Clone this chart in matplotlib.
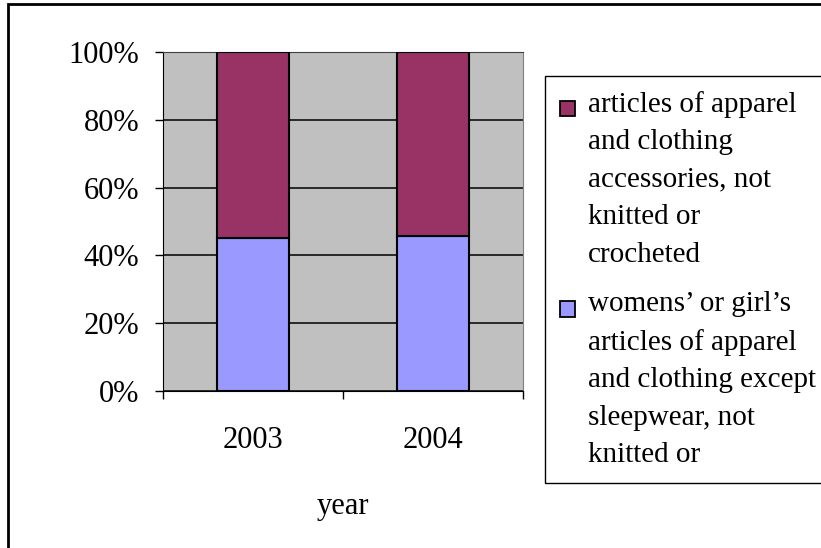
import matplotlib
matplotlib.use("Agg")
import matplotlib.pyplot as plt
from matplotlib.patches import Rectangle
import numpy as np

# data (share of total, %)
years = ["2003", "2004"]
womens = [45.2, 45.8]
apparel = [54.8, 54.2]

labels = ["articles of apparel\nand clothing\naccessories, not\nknitted or\ncrocheted",
          "womens\u2019 or girl\u2019s\narticles of apparel\nand clothing except\nsleepwear, not\nknitted or"]

plt.rcParams["font.family"] = ["Liberation Serif", "DejaVu Serif"]
fs = 22
lfs = 21
DPI = 100

W, H = 821, 548
fig = plt.figure(figsize=(W / DPI, H / DPI), dpi=DPI)
ax = fig.add_axes([163 / W, 1 - 391 / H, 360 / W, 339 / H])
ax.set_facecolor("#C0C0C0")

x = np.arange(len(years))
b1 = ax.bar(x, womens, width=0.4, color="#9999FF", edgecolor="black", linewidth=1.5, zorder=3)
b2 = ax.bar(x, apparel, width=0.4, bottom=womens, color="#993366", edgecolor="black",
            linewidth=1.5, zorder=3)

ax.set_xlim(-0.5, 1.5)
ax.set_ylim(0, 100)

# y axis
ax.set_yticks(np.arange(0, 101, 20))
ax.set_yticklabels(["%d%%" % v for v in range(0, 101, 20)], fontsize=fs)
ax.yaxis.grid(True, color="black", linewidth=1.1, zorder=1)
ax.set_axisbelow(True)
ax.tick_params(axis="y", direction="out", length=6, width=1, pad=11)

# x axis: ticks at category boundaries, labels centered
ax.set_xticks([-0.5, 0.5, 1.5])
ax.set_xticklabels([])
ax.set_xticks(x, minor=True)
ax.set_xticklabels(years, minor=True, fontsize=fs)
ax.tick_params(axis="x", which="major", direction="out", length=6, width=1)
ax.tick_params(axis="x", which="minor", length=0, pad=25)
ax.set_xlabel("year", fontsize=fs, labelpad=27)

ax.spines["left"].set_color("black")
ax.spines["bottom"].set_color("black")
ax.spines["top"].set_color("#404040")
ax.spines["right"].set_color("#808080")

leg = fig.legend([b2, b1], labels, loc="upper left",
                 bbox_to_anchor=(545 / W, 1 - 76 / H), borderaxespad=0,
                 fontsize=lfs, handlelength=0.52, handleheight=0.42,
                 handletextpad=0.46, borderpad=0.5, labelspacing=0.8,
                 fancybox=False, edgecolor="black", framealpha=1)
leg.get_frame().set_linewidth(1.0)
for h in leg.legend_handles:
    h.set_linewidth(1.3)
for t in leg.get_texts():
    t.set_linespacing(1.575)

# move each legend square up to the first line of its label
fig.canvas.draw()
r = fig.canvas.get_renderer()
fpx = lfs * DPI / 72
for h, t in zip(leg.legend_handles, leg.get_texts()):
    tb = t.get_window_extent(r)
    hb = h.get_window_extent(r)
    want = tb.y1 - 0.62 * fpx
    dy = want - (hb.y0 + hb.y1) / 2
    h.set_y(h.get_y() + dy * 72 / DPI)

# outer chart border
fig.patches.append(Rectangle((8 / W, -0.1), 1.2, 1 - 4 / H + 0.1, transform=fig.transFigure,
                             fill=False, edgecolor="black", linewidth=2))

fig.savefig("out.png", dpi=DPI)
